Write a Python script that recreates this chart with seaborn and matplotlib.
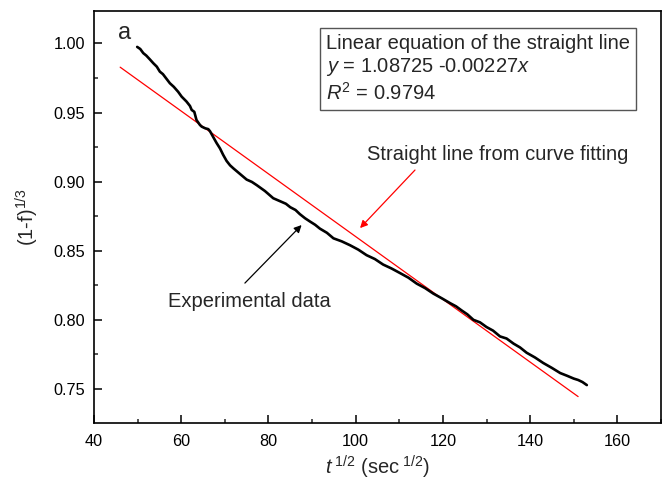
import numpy as np
import pandas as pd
import matplotlib
matplotlib.use("Agg")
import matplotlib.pyplot as plt
import seaborn as sns
from matplotlib.ticker import MultipleLocator

t_sqrt = [49.9, 50.6, 51.3, 52.0, 52.8, 53.6, 54.4, 55.1, 55.8, 56.6, 57.4, 58.3,
          59.3, 60.1, 61.2, 62.0, 62.4, 63.0, 63.5, 64.3, 64.7, 65.5, 66.2,
          66.6, 67.3, 68.1, 68.9, 69.6, 70.4, 71.2, 72.0, 73.5, 75.0, 76.2,
          77.3, 79.2, 81.1, 82.7, 84.0, 85.0, 86.2, 87.2, 88.4, 89.5, 90.7,
          91.8, 93.4, 94.9, 96.8, 98.7, 100.6, 102.5, 104.4, 106.3, 108.2,
          110.2, 112.1, 114.0, 115.9, 117.8, 119.8, 121.7, 123.0, 124.3, 125.6,
          127.0, 128.5, 130.0, 131.5, 133.1, 134.6, 136.2, 137.7, 139.2, 141.1,
          143.0, 145.0, 146.9, 148.5, 150.0, 151.0, 152.0, 153.0]
conv = [0.9975, 0.9960, 0.9930, 0.9912, 0.9885, 0.9857, 0.9832, 0.9796, 0.9778,
        0.9745, 0.9712, 0.9686, 0.9650, 0.9615, 0.9580, 0.9548, 0.9519, 0.9505,
        0.9446, 0.9410, 0.9398, 0.9386, 0.9380, 0.9365, 0.9325, 0.9280, 0.9240,
        0.9195, 0.9150, 0.9118, 0.9095, 0.9055, 0.9015, 0.8998, 0.8975, 0.8932,
        0.8880, 0.8858, 0.8840, 0.8815, 0.8795, 0.8765, 0.8735, 0.8712, 0.8688,
        0.8660, 0.8630, 0.8590, 0.8568, 0.8540, 0.8508, 0.8468, 0.8440, 0.8400,
        0.8372, 0.8338, 0.8305, 0.8262, 0.8230, 0.8190, 0.8155, 0.8120, 0.8098,
        0.8068, 0.8040, 0.8000, 0.7982, 0.7948, 0.7922, 0.7880, 0.7865, 0.7828,
        0.7800, 0.7762, 0.7728, 0.7688, 0.7652, 0.7615, 0.7595, 0.7575, 0.7565,
        0.7550, 0.7528]

# Fitted straight line end points
fit_x = [46.0, 151.0]
fit_y = [0.98283, 0.74448]

df_exp = pd.DataFrame({"t": t_sqrt, "c": conv})
df_fit = pd.DataFrame({"t": fit_x, "c": fit_y})

sns.set_style("ticks")
plt.rcParams["font.family"] = ["Liberation Sans", "DejaVu Sans"]
plt.rcParams["mathtext.fontset"] = "custom"
plt.rcParams["mathtext.rm"] = "Liberation Sans"
plt.rcParams["mathtext.it"] = "Liberation Sans:italic"

fig = plt.figure(figsize=(6.69, 4.86), dpi=100)
ax = fig.add_axes([0.1405, 0.1303, 0.8475, 0.8477])

sns.lineplot(data=df_fit, x="t", y="c", color="red", linewidth=0.9, ax=ax)
sns.lineplot(data=df_exp, x="t", y="c", color="black", linewidth=1.9, ax=ax,
             sort=False)

ax.set_xlim(40, 170)
ax.set_ylim(0.7256, 1.0237)
ax.xaxis.set_major_locator(MultipleLocator(20))
ax.xaxis.set_minor_locator(MultipleLocator(10))
ax.yaxis.set_major_locator(MultipleLocator(0.05))
ax.yaxis.set_minor_locator(MultipleLocator(0.025))
ax.yaxis.set_major_formatter(plt.FormatStrFormatter("%.2f"))
ax.tick_params(which="major", direction="in", length=6, width=1.1,
               labelsize=11.7, colors="black")
ax.tick_params(axis="x", which="major", pad=8.5)
ax.tick_params(axis="y", which="major", pad=6.5)
ax.tick_params(which="minor", direction="in", length=3, width=1.1)
for s in ax.spines.values():
    s.set_linewidth(1.2)
    s.set_color("black")

ax.set_xlabel(r"$t$$^{\ 1/2}$ (sec$^{\ 1/2}$)", fontsize=14.5, labelpad=3)
ax.set_ylabel(r"(1-f)$^{1/3}$", fontsize=14.5, labelpad=9)

ax.text(47.1, 1.0076, "a", fontsize=17, ha="center", va="center")

ax.text(0.409, 0.944,
        "Linear equation of the straight line\n"
        "$y$ = 1.08725 -0.00227$x$\n"
        "$R^2$ = 0.9794",
        transform=ax.transAxes, fontsize=14.5, ha="left", va="top",
        linespacing=1.22,
        bbox=dict(boxstyle="square,pad=0.3", facecolor="white",
                  edgecolor="#555555", linewidth=1.0))

# arrows and their labels
ax.annotate("", xy=(101.0, 0.8664), xytext=(113.6, 0.9084),
            arrowprops=dict(arrowstyle="-|>", color="red", lw=0.9,
                            shrinkA=0, shrinkB=0, mutation_scale=11))
ax.text(132.5, 0.9193, "Straight line from curve fitting", fontsize=14.5,
        ha="center", va="center")
ax.annotate("", xy=(87.6, 0.8686), xytext=(74.6, 0.8266),
            arrowprops=dict(arrowstyle="-|>", color="black", lw=0.9,
                            shrinkA=0, shrinkB=0, mutation_scale=11))
ax.text(75.6, 0.813, "Experimental data", fontsize=14.5,
        ha="center", va="center")

fig.savefig("out.png", dpi=100)
